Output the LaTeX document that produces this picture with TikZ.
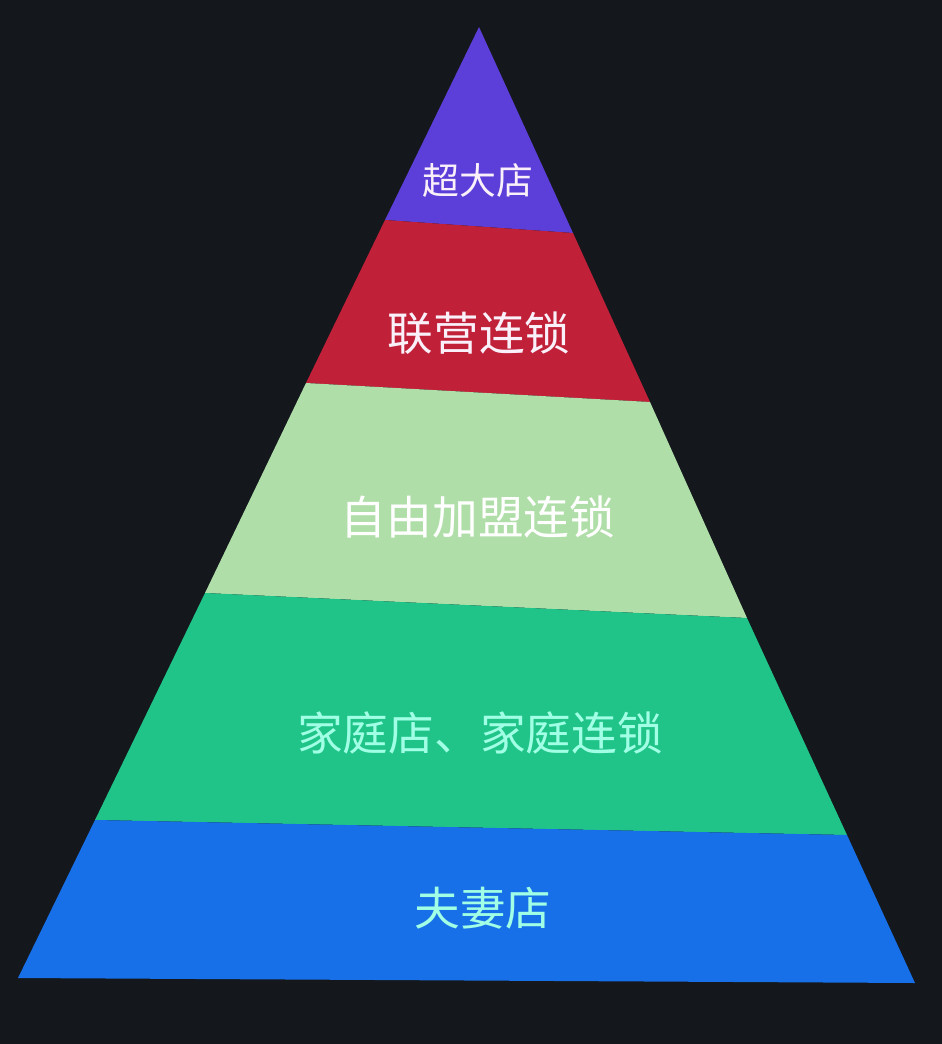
\documentclass[tikz,border=0pt]{standalone}
\usepackage{fontspec}
\usepackage{xcolor}
\usepackage{tikz}
\newfontfamily\cjk{Noto Sans CJK SC}
\definecolor{screenbg}{RGB}{20,23,28}
\definecolor{toppurple}{RGB}{92,62,216}
\definecolor{tierred}{RGB}{192,32,56}
\definecolor{mintgreen}{RGB}{176,222,168}
\definecolor{tiergreen}{RGB}{32,196,136}
\definecolor{tierblue}{RGB}{24,112,232}
\definecolor{paletext}{RGB}{250,240,250}
\definecolor{cyantext}{RGB}{160,255,228}

\begin{document}
\begin{tikzpicture}[x=0.02cm, y=-0.02cm,
  tierlabel/.style={font=\cjk\fontsize{26}{30}\selectfont, inner sep=0pt}]
  % Screen background
  \fill[screenbg] (0,0) rectangle (942,1044);
  \useasboundingbox (0,0) rectangle (942,1044);

  % Pyramid corners and band edges
  \coordinate (apex) at (479,27);
  \coordinate (l1) at (385,220);  \coordinate (r1) at (573,233);
  \coordinate (l2) at (306,383);  \coordinate (r2) at (650,402);
  \coordinate (l3) at (205,593);  \coordinate (r3) at (747,618);
  \coordinate (l4) at (95,820);   \coordinate (r4) at (847,835);
  \coordinate (l5) at (18,978);   \coordinate (r5) at (915,983);

  % Bands, top to bottom
  \fill[toppurple] (apex) -- (r1) -- (l1) -- cycle;
  \fill[tierred]   (l1) -- (r1) -- (r2) -- (l2) -- cycle;
  \fill[mintgreen] (l2) -- (r2) -- (r3) -- (l3) -- cycle;
  \fill[tiergreen] (l3) -- (r3) -- (r4) -- (l4) -- cycle;
  \fill[tierblue]  (l4) -- (r4) -- (r5) -- (l5) -- cycle;

  % Labels
  \node[tierlabel, text=paletext, font=\cjk\fontsize{21}{24}\selectfont]
    (top) at (478,180) {超大店};
  \node[tierlabel, text=paletext] (league) at (479,333) {联营连锁};
  \node[tierlabel, text=white] (franchise) at (478,517) {自由加盟连锁};
  \node[tierlabel, text=cyantext] (family) at (480,733) {家庭店、家庭连锁};
  \node[tierlabel, text=cyantext] (couple) at (483,908) {夫妻店};
\end{tikzpicture}
\end{document}
